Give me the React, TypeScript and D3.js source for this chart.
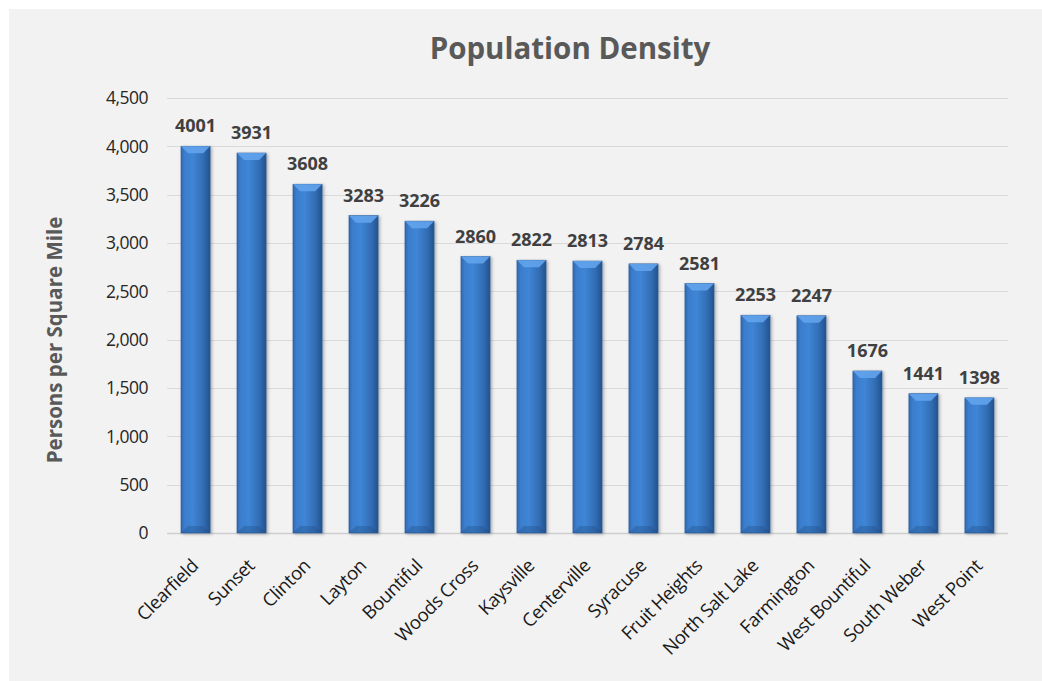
import React, { useEffect, useRef } from 'react';
import * as d3 from 'd3';

const cities = [
  'Clearfield', 'Sunset', 'Clinton', 'Layton', 'Bountiful', 'Woods Cross', 'Kaysville',
  'Centerville', 'Syracuse', 'Fruit Heights', 'North Salt Lake', 'Farmington',
  'West Bountiful', 'South Weber', 'West Point',
];
const density = [4001, 3931, 3608, 3283, 3226, 2860, 2822, 2813, 2784, 2581, 2253, 2247, 1676, 1441, 1398];
const yTicks = [0, 500, 1000, 1500, 2000, 2500, 3000, 3500, 4000, 4500];

const FONT = '"Open Sans", "Noto Sans", sans-serif';

const App: React.FC = () => {
  const ref = useRef<SVGSVGElement>(null);
  const W = 1042, H = 681;

  useEffect(() => {
    if (!ref.current) return;
    const svg = d3.select(ref.current);
    svg.selectAll('*').remove();

    const margin = { top: 98, right: 34, bottom: 148, left: 167 };
    const width = W - margin.left - margin.right;
    const height = H - margin.top - margin.bottom;

    // background
    svg.append('rect').attr('width', W).attr('height', H).attr('fill', '#ffffff');
    svg.append('rect').attr('x', 9).attr('y', 9).attr('width', W - 9).attr('height', H - 9).attr('fill', '#f2f2f2');

    const defs = svg.append('defs');
    const grad = defs.append('linearGradient').attr('id', 'barGrad').attr('x1', '0%').attr('x2', '100%');
    grad.append('stop').attr('offset', '0%').attr('stop-color', '#2f68b0');
    grad.append('stop').attr('offset', '12%').attr('stop-color', '#3b7dcc');
    grad.append('stop').attr('offset', '40%').attr('stop-color', '#3f85d6');
    grad.append('stop').attr('offset', '75%').attr('stop-color', '#336eb6');
    grad.append('stop').attr('offset', '100%').attr('stop-color', '#25528d');
    const shadow = defs.append('filter').attr('id', 'shadow').attr('x', '-20%').attr('y', '-5%').attr('width', '150%').attr('height', '115%');
    shadow.append('feDropShadow').attr('dx', 1.5).attr('dy', 1).attr('stdDeviation', 1.5).attr('flood-color', '#000').attr('flood-opacity', 0.3);

    const g = svg.append('g').attr('transform', `translate(${margin.left},${margin.top})`);

    const x = d3.scaleBand().domain(cities).range([0, width]).paddingInner(0.48).paddingOuter(0.25);
    const y = d3.scaleLinear().domain([0, 4500]).range([height, 0]);

    // grid lines
    g.selectAll('.grid').data(yTicks).enter().append('line')
      .attr('x1', 0).attr('x2', width)
      .attr('y1', d => Math.round(y(d)) + 0.5).attr('y2', d => Math.round(y(d)) + 0.5)
      .attr('stroke', d => (d === 0 ? '#cfcfcf' : '#d9d9d9')).attr('stroke-width', d => (d === 0 ? 1.5 : 1));

    // y tick labels
    g.selectAll('.ytick').data(yTicks).enter().append('text')
      .attr('x', -19).attr('y', d => y(d)).attr('dy', '0.36em')
      .attr('text-anchor', 'end')
      .style('font-family', FONT).style('font-size', '17.5px').style('letter-spacing', '-0.5px').attr('fill', '#262626')
      .text(d => d3.format(',')(d));

    const bw = x.bandwidth();
    const bars = g.selectAll('.bar').data(cities).enter().append('g').attr('class', 'bar');
    bars.append('rect')
      .attr('x', d => x(d)!).attr('y', (d, i) => y(density[i]))
      .attr('width', bw).attr('height', (d, i) => height - y(density[i]))
      .attr('fill', 'url(#barGrad)').attr('stroke', '#2a5b96').attr('stroke-width', 0.6)
      .attr('filter', 'url(#shadow)');
    // top bevel
    bars.append('path')
      .attr('d', (d, i) => {
        const x0 = x(d)!, t = y(density[i]);
        return `M${x0},${t} L${x0 + bw},${t} L${x0 + bw - 7},${t + 7} L${x0 + 7},${t + 7} Z`;
      })
      .attr('fill', '#62a3ec').attr('opacity', 0.9);
    // bottom bevel
    bars.append('path')
      .attr('d', d => {
        const x0 = x(d)!;
        return `M${x0},${height} L${x0 + bw},${height} L${x0 + bw - 7},${height - 7} L${x0 + 7},${height - 7} Z`;
      })
      .attr('fill', '#234d85').attr('opacity', 0.35);

    // value labels
    g.selectAll('.val').data(cities).enter().append('text')
      .attr('x', d => x(d)! + bw / 2).attr('y', (d, i) => y(density[i]) - 14)
      .attr('text-anchor', 'middle')
      .style('font-family', FONT).style('font-size', '18px').style('font-weight', 'bold').attr('fill', '#404040')
      .text((d, i) => density[i]);

    // x labels
    g.selectAll('.xl').data(cities).enter().append('text')
      .attr('transform', d => `translate(${x(d)! + bw / 2 + 4},${height + 34}) rotate(-45)`)
      .attr('text-anchor', 'end')
      .style('font-family', FONT).style('font-size', '18.5px').style('letter-spacing', '-0.4px').attr('fill', '#1a1a1a')
      .text(d => d);

    // title
    svg.append('text')
      .attr('x', 570).attr('y', 59).attr('text-anchor', 'middle')
      .style('font-family', FONT).style('font-size', '29.5px').style('font-weight', 'bold').attr('fill', '#595959')
      .text('Population Density');

    // y axis title
    svg.append('text')
      .attr('transform', `translate(62,340) rotate(-90)`)
      .attr('text-anchor', 'middle')
      .style('font-family', FONT).style('font-size', '20.5px').style('font-weight', 'bold').attr('fill', '#595959')
      .text('Persons per Square Mile');
  }, []);

  return <svg ref={ref} width={W} height={H} style={{ position: 'absolute', left: 0, top: 0 }} />;
};

export default App;
